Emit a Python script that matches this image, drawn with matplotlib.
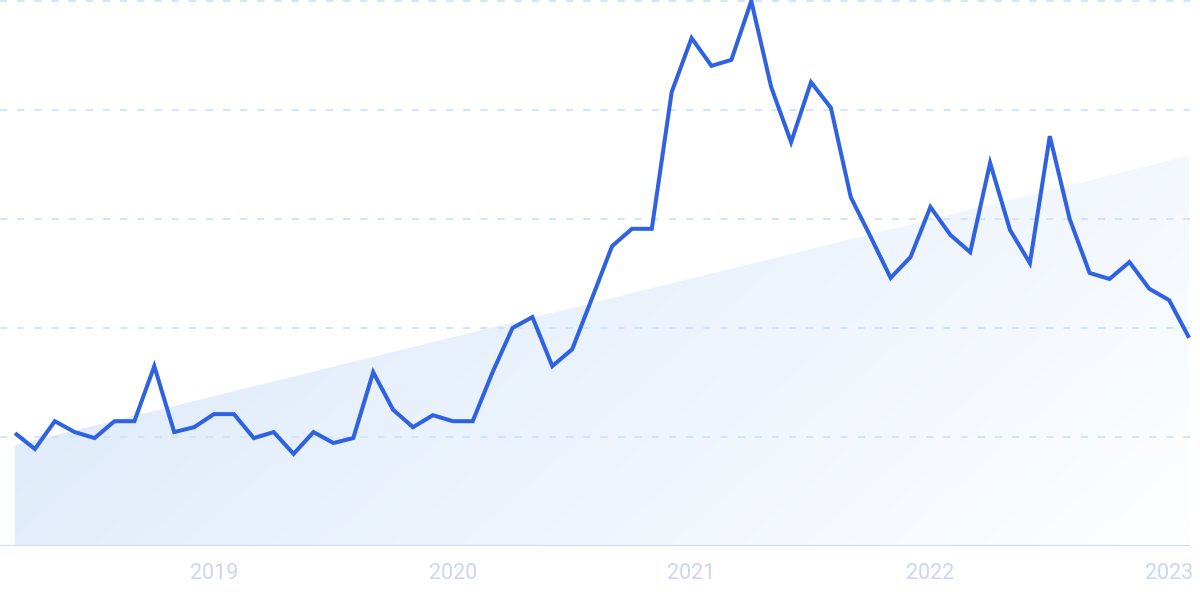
import numpy as np
import matplotlib
matplotlib.use("Agg")
import matplotlib.pyplot as plt
from matplotlib.patches import Polygon

# ---- data (monthly, Mar 2018 .. Feb 2023) ----
start_year, start_month = 2018, 3
values = [20.7, 17.8, 22.9, 20.9, 19.8, 22.9, 22.9, 33.0, 20.9, 21.8,
          24.2, 24.2, 19.8, 20.9, 16.9, 20.9, 18.9, 19.8, 31.9, 25.0,
          21.8, 24.0, 22.9, 22.9, 31.9, 40.0, 42.0, 33.0, 36.1, 45.5,
          55.0, 58.2, 58.2, 83.3, 93.2, 88.1, 89.2, 100.0, 84.2, 74.1,
          85.1, 80.4, 64.0, 56.7, 49.2, 53.0, 62.2, 57.1, 53.9, 70.3,
          58.0, 51.9, 75.2, 60.0, 50.1, 49.0, 52.1, 47.2, 45.1, 38.2]
trend_start, trend_end = 18.5, 71.6
tick_labels = ["2019", "2020", "2021", "2022", "2023"]
grid_levels = [20, 40, 60, 80, 100]

n = len(values)
x = np.arange(n)
tick_pos = [(int(lbl) - start_year) * 12 + (1 - start_month) for lbl in tick_labels]

plt.rcParams['font.family'] = ['Roboto', 'DejaVu Sans']

fig = plt.figure(figsize=(12, 5.99), dpi=100)
ax = fig.add_axes([0, 53 / 599, 1190 / 1200, 545 / 599])
x_lo = -15 / 19.9
ax.set_xlim(x_lo, x_lo + 1190 / 19.9)
ax.set_ylim(0, 100)

# gradient trend area
poly_xy = [(0, 0), (0, trend_start), (n - 1, trend_end), (n - 1, 0)]
poly = Polygon(poly_xy, closed=True, facecolor="none", edgecolor="none")
ax.add_patch(poly)
H, W = 200, 400
xn = np.linspace(0, 1, W)[None, :]
yn = np.linspace(1, 0, H)[:, None]  # top row = 1
t = np.clip(0.8 * xn + 0.3 * (1 - yn) - 0.08, 0, 1)
c0 = np.array([220, 233, 250]) / 255
c1 = np.array([253, 254, 255]) / 255
img = c0[None, None, :] * (1 - t[..., None]) + c1[None, None, :] * t[..., None]
im = ax.imshow(img, extent=[0, n - 1, 0, trend_end], aspect="auto",
               origin="upper", zorder=1, interpolation="bilinear")
im.set_clip_path(poly)

# grid lines
for g in grid_levels:
    ax.axhline(g, color="#cfe3fa", lw=1.3, ls=(0, (4, 5.5)), zorder=2, clip_on=False)
ax.axhline(0, color="#c9e0f8", lw=1.6, zorder=2.5)

# main line
ax.plot(x, values, color="#2f62e3", lw=2.9, zorder=3, clip_on=False,
        solid_joinstyle="miter", solid_capstyle="butt")

for s in ax.spines.values():
    s.set_visible(False)
ax.set_yticks([])
ax.set_xticks(tick_pos)
ax.set_xticklabels(tick_labels, fontsize=15.5, color="#cbd6f2")
ax.tick_params(axis="x", length=0, pad=12)

fig.savefig("out.png", dpi=100, facecolor="white")
